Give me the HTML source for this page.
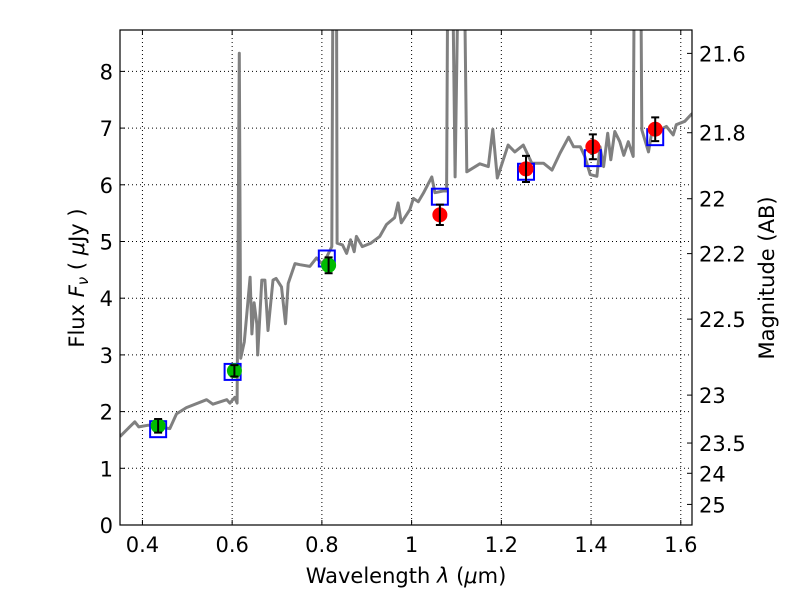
<!DOCTYPE html>
<html><head><meta charset="utf-8"><style>
body{margin:0;background:#fff;width:800px;height:600px;overflow:hidden}
svg{font-family:"DejaVu Sans","Liberation Sans",sans-serif}
</style></head><body>
<svg id="chart" width="800" height="600" xmlns="http://www.w3.org/2000/svg">
<defs><clipPath id="plotclip"><rect x="120" y="30" width="572" height="495"/></clipPath></defs>
<rect x="0" y="0" width="800" height="600" fill="#fff"/>
<g id="grid"></g>
<g id="series" clip-path="url(#plotclip)"></g>
<g id="axes"></g>
<text x="406" y="583" font-size="21" text-anchor="middle">Wavelength  <tspan font-style="italic">λ</tspan> (<tspan font-style="italic">μ</tspan>m)</text>
<text transform="translate(84,278) rotate(-90)" font-size="21" text-anchor="middle">Flux  <tspan font-style="italic">F</tspan><tspan font-style="italic" font-size="15" dy="4">ν</tspan><tspan dy="-4">  (  </tspan><tspan font-style="italic">μ</tspan>Jy )</text>
<text transform="translate(774,278) rotate(-90)" font-size="21" text-anchor="middle">Magnitude (AB)</text>
</svg>
<script>
const specLam=[0.350,0.383,0.392,0.413,0.461,0.476,0.498,0.543,0.557,0.588,0.595,0.606,0.611,0.616,0.619,0.627,0.640,0.644,0.649,0.655,0.657,0.666,0.673,0.680,0.691,0.698,0.710,0.719,0.725,0.740,0.751,0.773,0.788,0.800,0.811,0.822,0.826,0.832,0.834,0.846,0.855,0.864,0.872,0.877,0.890,0.909,0.929,0.944,0.962,0.970,0.977,0.996,1.004,1.015,1.026,1.045,1.052,1.070,1.078,1.082,1.088,1.097,1.108,1.114,1.123,1.152,1.171,1.181,1.191,1.215,1.230,1.249,1.268,1.294,1.313,1.331,1.350,1.361,1.376,1.386,1.398,1.413,1.420,1.428,1.437,1.444,1.453,1.464,1.473,1.483,1.494,1.498,1.509,1.513,1.528,1.535,1.554,1.568,1.583,1.590,1.609,1.623,1.630];
const specFlux=[1.56,1.82,1.73,1.76,1.70,1.96,2.07,2.21,2.13,2.21,2.15,2.25,2.15,8.32,2.94,3.23,4.37,3.37,3.92,3.55,3.00,4.32,4.32,3.43,4.32,4.35,4.20,3.55,4.26,4.61,4.59,4.56,4.71,4.61,4.73,4.91,12,12,4.97,4.94,4.79,5.03,4.82,5.09,4.91,4.97,5.09,5.30,5.42,5.68,5.33,5.56,5.76,5.70,5.85,6.14,5.86,5.89,5.89,12,12,6.14,12,12,6.23,6.37,6.32,6.98,6.12,6.70,6.58,6.70,6.38,6.38,6.26,6.56,6.84,6.67,6.67,6.50,6.18,6.15,6.67,6.32,6.91,6.44,6.94,6.76,6.52,6.76,6.50,12,12,6.97,6.58,6.91,6.97,7.03,6.88,7.06,7.12,7.24,7.28];
const modelLam=[0.435,0.601,0.811,1.063,1.255,1.404,1.543];
const modelFlux=[1.69,2.70,4.70,5.79,6.23,6.47,6.84];
const greenLam=[0.435,0.605,0.815];
const greenFlux=[1.75,2.72,4.58];
const greenErr=[0.12,0.10,0.14];
const redLam=[1.063,1.255,1.404,1.543];
const redFlux=[5.47,6.28,6.67,6.98];
const redErr=[0.18,0.23,0.22,0.21];
const xTicks=[0.4,0.6,0.8,1.0,1.2,1.4,1.6];
const xTickLabels=["0.4","0.6","0.8","1","1.2","1.4","1.6"];
const yTicks=[0,1,2,3,4,5,6,7,8];
const magTicks=[21.6,21.8,22,22.2,22.5,23,23.5,24,25];
const magLabels=["21.6","21.8","22","22.2","22.5","23","23.5","24","25"];

const X0=120,X1=692,Y0=525,Y1=30,LMIN=0.35,LMAX=1.625,FMIN=0,FMAX=8.73;
const sx=l=>X0+(l-LMIN)/(LMAX-LMIN)*(X1-X0);
const sy=f=>Y0-(f-FMIN)/(FMAX-FMIN)*(Y0-Y1);
const NS="http://www.w3.org/2000/svg";
function mk(tag,attrs,parent){const e=document.createElementNS(NS,tag);for(const k in attrs)e.setAttribute(k,attrs[k]);parent.appendChild(e);return e;}
const grid=document.getElementById('grid'),ser=document.getElementById('series'),axes=document.getElementById('axes');

xTicks.forEach((t,i)=>{
  const x=sx(t);
  const g=mk('line',{x1:x,x2:x,y1:Y1,y2:Y0,stroke:'#000','stroke-width':1,'stroke-dasharray':'1,3'},grid);
  
  
  mk('line',{x1:x,x2:x,y1:Y0,y2:Y0-5,stroke:'#000'},axes);
  mk('line',{x1:x,x2:x,y1:Y1,y2:Y1+5,stroke:'#000'},axes);
  const tx=mk('text',{x:x,y:Y0+27,'font-size':21,'text-anchor':'middle'},axes);
  tx.textContent=xTickLabels[i];
  
  
});
yTicks.forEach(t=>{
  const y=sy(t);
  const g=mk('line',{x1:X0,x2:X1,y1:y,y2:y,stroke:'#000','stroke-width':1,'stroke-dasharray':'1,3'},grid);
  
  
  mk('line',{x1:X0,x2:X0+5,y1:y,y2:y,stroke:'#000'},axes);
  const tx=mk('text',{x:X0-7,y:y+8,'font-size':21,'text-anchor':'end'},axes);
  tx.textContent=String(t);
  
  
});
magTicks.forEach((m,i)=>{
  const f=Math.pow(10,(23.9-m)/2.5);const y=sy(f);
  mk('line',{x1:X1,x2:X1-5,y1:y,y2:y,stroke:'#000'},axes);
  const tx=mk('text',{x:X1+7,y:y+8,'font-size':21,'text-anchor':'start'},axes);
  tx.textContent=magLabels[i];
  
  
});
const fr=mk('rect',{x:X0,y:Y1,width:X1-X0,height:Y0-Y1,fill:'none',stroke:'#000','stroke-width':1.2},axes);



const pts=specLam.map((l,i)=>sx(l).toFixed(1)+','+sy(specFlux[i]).toFixed(1)).join(' ');
const sp=mk('polyline',{points:pts,fill:'none',stroke:'#808080','stroke-width':3,'stroke-linejoin':'round'},ser);



modelLam.forEach((l,i)=>{
  const r=mk('rect',{x:sx(l)-8,y:sy(modelFlux[i])-8,width:16,height:16,fill:'none',stroke:'#0000ff','stroke-width':2},ser);
  
  
});
function pt(l,f,e,col,name){
  const x=sx(l),y=sy(f);
  const c=mk('circle',{cx:x,cy:y,r:7.5,fill:col},ser);
  
  
  const y1=sy(f+e),y2=sy(f-e);
  const eb=mk('path',{d:`M${x},${y1}V${y2}M${x-4},${y1}H${x+4}M${x-4},${y2}H${x+4}`,stroke:'#000','stroke-width':2,fill:'none'},ser);
  
  
}
greenLam.forEach((l,i)=>pt(l,greenFlux[i],greenErr[i],'#00bb00','optical-data-point'));
redLam.forEach((l,i)=>pt(l,redFlux[i],redErr[i],'#ff0000','nir-data-point'));
</script>
</body></html>
